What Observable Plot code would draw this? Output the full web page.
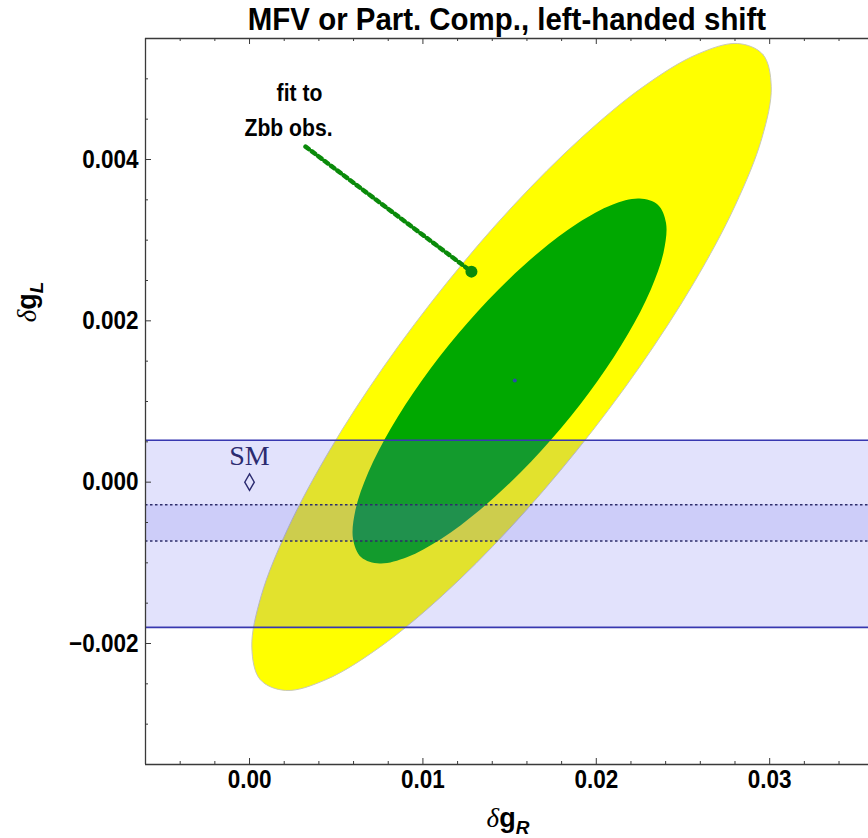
<!DOCTYPE html>
<html>
<head>
<meta charset="utf-8">
<script src="https://cdn.jsdelivr.net/npm/d3@7"></script>
<script src="https://cdn.jsdelivr.net/npm/@observablehq/plot@0.6"></script>
<style>
  body { margin: 0; background: #fff; overflow: hidden; }
  svg { display: block; }
</style>
</head>
<body>
<div id="chart"></div>
<script>
// Title and axis ranges
const title = "MFV or Part. Comp., left-handed shift";
const xDomain = [-0.006, 0.0357];
const yDomain = [-0.0035, 0.0055];

// Tick positions and labels
const xTicks = [0, 0.01, 0.02, 0.03];
const xTickLabels = ["0.00", "0.01", "0.02", "0.03"];
const xMinorTicks = [-0.004, -0.002, 0.002, 0.004, 0.006, 0.008, 0.012, 0.014, 0.016, 0.018,
                     0.022, 0.024, 0.026, 0.028, 0.032, 0.034];
const yTicks = [-0.002, 0, 0.002, 0.004];
const yTickLabels = ["\u22120.002", "0.000", "0.002", "0.004"];
const yMinorTicks = [-0.003, -0.0025, -0.0015, -0.001, -0.0005, 0.0005, 0.001, 0.0015,
                     0.0025, 0.003, 0.0035, 0.0045, 0.005];

// Outer (yellow) confidence contour, [δgR, δgL], clockwise from the top
const outerContour = [
  [0.028146, 0.005438], [0.029611, 0.005302], [0.030090, 0.004902], [0.029548, 0.004263],
  [0.028019, 0.003434], [0.025614, 0.002466], [0.022494, 0.001428], [0.018866, 0.000390],
  [0.014984, -0.000578], [0.011114, -0.001407], [0.007515, -0.002045], [0.004430, -0.002446],
  [0.002076, -0.002582], [0.000611, -0.002446], [0.000133, -0.002045], [0.000675, -0.001407],
  [0.002203, -0.000578], [0.004608, 0.000390], [0.007729, 0.001428], [0.011357, 0.002466],
  [0.015238, 0.003434], [0.019108, 0.004263], [0.022707, 0.004902], [0.025793, 0.005302]
];

// Inner (green) confidence contour, [δgR, δgL], clockwise from the top
const innerContour = [
  [0.022488, 0.003515], [0.023549, 0.003440], [0.024022, 0.003213], [0.023884, 0.002854],
  [0.023140, 0.002386], [0.021836, 0.001840], [0.020072, 0.001255], [0.017961, 0.000669],
  [0.015642, 0.000123], [0.013283, -0.000345], [0.011045, -0.000704], [0.009073, -0.000931],
  [0.007504, -0.001008], [0.006443, -0.000931], [0.005970, -0.000704], [0.006108, -0.000345],
  [0.006852, 0.000123], [0.008155, 0.000669], [0.009920, 0.001255], [0.012031, 0.001840],
  [0.014350, 0.002386], [0.016709, 0.002854], [0.018947, 0.003213], [0.020919, 0.003440]
];

// Best-fit point, Zbb fit point and its annotation
const bestFit = [0.0153, 0.00126];
const zbbFit = [0.0128, 0.00261];
const leaderStart = [0.00323, 0.00416];
const noteLines = [
  {text: "fit to", x: 0.00288, y: 0.004817},
  {text: "Zbb obs.", x: 0.00225, y: 0.004385}
];

// Horizontal bands in δgL
const outerBand = [-0.0018, 0.00052];
const innerBand = [-0.00073, -0.00028];

// Standard Model point
const smPoint = [0, 0];
const smLabel = {text: "SM", x: 0, y: 0.00033};

const W = 868, H = 838;
const mL = 145, mT = 38, mB = 74, mR = 0;
const plotW = W - mL - mR, plotH = H - mT - mB;
const axisColor = "#3a3a3a";
const sans = "'Liberation Sans', Arial, Helvetica, sans-serif";

const plot = Plot.plot({
  width: W,
  height: H,
  marginLeft: mL,
  marginTop: mT,
  marginBottom: mB,
  marginRight: mR,
  style: {fontFamily: sans, fontSize: "25px", fontWeight: "bold", color: "#000", background: "#fff"},
  x: {domain: xDomain},
  y: {domain: yDomain},
  marks: [
    // confidence regions
    Plot.line(outerContour, {x: d => d[0], y: d => d[1], curve: "catmull-rom-closed", fill: "#ffff00", stroke: "#c9c9b8", strokeWidth: 1}),
    Plot.line(innerContour, {x: d => d[0], y: d => d[1], curve: "catmull-rom-closed", fill: "#00a800", stroke: "none"}),

    // translucent bands on top
    Plot.rect([outerBand], {x1: xDomain[0], x2: xDomain[1], y1: d => d[0], y2: d => d[1], fill: "#6464f0", fillOpacity: 0.19}),
    Plot.rect([innerBand], {x1: xDomain[0], x2: xDomain[1], y1: d => d[0], y2: d => d[1], fill: "#6464f0", fillOpacity: 0.17}),
    Plot.ruleY(outerBand, {stroke: "#3838b0", strokeWidth: 1.6}),
    Plot.ruleY(innerBand, {stroke: "#2e2e6a", strokeWidth: 1.6, strokeDasharray: "2.5,2.5"}),

    // best-fit point
    Plot.dot([bestFit], {x: d => d[0], y: d => d[1], r: 2, fill: "#2a4aa8"}),

    // Zbb annotation
    Plot.line([leaderStart, zbbFit], {x: d => d[0], y: d => d[1], stroke: "#0a8a0a", strokeWidth: 4.5, strokeDasharray: "4,4"}),
    Plot.dot([zbbFit], {x: d => d[0], y: d => d[1], r: 6, fill: "#0a8a0a"}),
    Plot.text(noteLines, {x: "x", y: "y", text: "text", fontSize: 24, fontWeight: "bold", fill: "#000", className: "condense-note"}),

    // SM point
    Plot.dot([smPoint], {x: d => d[0], y: d => d[1], symbol: "diamond", r: 5, stroke: "#2b2b70", strokeWidth: 1.4, fill: "none"}),
    Plot.text([smLabel], {x: "x", y: "y", text: "text", fontFamily: "'Liberation Serif', 'Times New Roman', serif", fontWeight: "normal", fontSize: 28, fill: "#2b2b70"}),

    // frame (right side lies outside the view)
    Plot.ruleX([xDomain[0]], {stroke: axisColor, strokeWidth: 1.3}),
    Plot.ruleY([yDomain[0], yDomain[1]], {stroke: axisColor, strokeWidth: 1.3}),

    // inward ticks
    Plot.tickX(xTicks, {x: d => d, insetTop: plotH - 6, stroke: axisColor}),
    Plot.tickX(xMinorTicks, {x: d => d, insetTop: plotH - 3, stroke: axisColor}),
    Plot.tickX(xTicks, {x: d => d, insetBottom: plotH - 6, stroke: axisColor}),
    Plot.tickX(xMinorTicks, {x: d => d, insetBottom: plotH - 3, stroke: axisColor}),
    Plot.tickY(yTicks, {y: d => d, insetRight: plotW - 6, stroke: axisColor}),
    Plot.tickY(yMinorTicks, {y: d => d, insetRight: plotW - 3, stroke: axisColor}),

    // tick labels
    Plot.axisX(xTicks, {tickSize: 0, tickPadding: 6, label: null, className: "condense-tick", tickFormat: d => xTickLabels[xTicks.indexOf(d)]}),
    Plot.axisY(yTicks, {tickSize: 0, tickPadding: 7, label: null, className: "condense-tick", tickFormat: d => yTickLabels[yTicks.indexOf(d)]}),

    // title
    Plot.text([title], {frameAnchor: "top", lineAnchor: "middle", dy: -19, fontSize: 32, fontWeight: "bold", fill: "#000", className: "condense-title"})
  ]
});

document.getElementById("chart").appendChild(plot);

// narrow the bold sans labels horizontally around their anchor point
function condense(selector, sx) {
  d3.select(plot).selectAll(selector).each(function() {
    const el = d3.select(this);
    const tr = el.attr("transform");
    if (tr) {
      el.attr("transform", `${tr} scale(${sx},1)`);
    } else {
      const x = +el.attr("x") || 0, y = +el.attr("y") || 0;
      el.attr("transform", `translate(${x},${y}) scale(${sx},1) translate(${-x},${-y})`);
    }
  });
}
condense(".condense-tick text", 0.9);
condense(".condense-note text", 0.88);
condense(".condense-title text", 0.92);

// axis titles with Greek letter and subscripts
const svg = d3.select(plot);
function axisTitle(g, sub) {
  const t = g.append("text")
    .attr("font-family", sans)
    .attr("font-size", 27)
    .attr("fill", "#000")
    .attr("text-anchor", "middle");
  t.append("tspan").attr("font-family", "'Liberation Serif', serif").attr("font-style", "italic").attr("font-weight", "normal").text("\u03b4");
  t.append("tspan").attr("font-weight", "bold").text("g");
  t.append("tspan").attr("font-weight", "bold").attr("font-style", "italic").attr("font-size", 19).attr("dy", 7).text(sub);
  return t;
}
axisTitle(svg.append("g").attr("transform", "translate(508,827)"), "R");
axisTitle(svg.append("g").attr("transform", "translate(36,302) rotate(-90)"), "L");
</script>
</body>
</html>
